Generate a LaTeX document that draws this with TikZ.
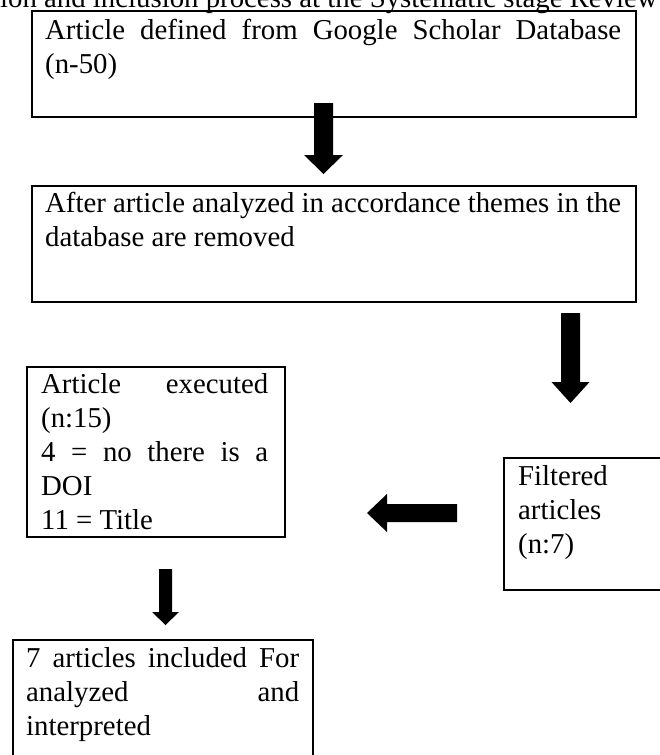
\documentclass[tikz,border=0pt]{standalone}
\usepackage{fontspec}
\setmainfont{Liberation Serif}
\begin{document}
\begin{tikzpicture}[x=1pt,y=-1pt,
  box/.style={draw, line width=2.2pt, inner sep=0pt, anchor=north west},
  txt/.style={anchor=north west, inner sep=0pt, text width=#1, align=justify,
    font=\fontsize{28.8}{34}\selectfont,
    execute at begin node={\parindent=0pt\tolerance=10000\hyphenpenalty=10000\pretolerance=-1}},
  blockarrow/.style={fill=black}]
\useasboundingbox (0,0) rectangle (659,755);
% cut-off caption
\node[anchor=base west, inner sep=0pt, font=\fontsize{28.8}{34}\selectfont] (cap) at (0,7)
  {ion and inclusion process at the Systematic stage Review};
% boxes
\node[box, minimum width=604pt, minimum height=106pt] (b1) at (31,10) {};
\node[box, minimum width=604pt, minimum height=116pt] (b2) at (31,185) {};
\node[box, minimum width=258pt, minimum height=170pt] (b3) at (26,366) {};
\node[box, minimum width=190pt, minimum height=132pt] (b5) at (503,457) {};
\node[box, minimum width=300pt, minimum height=150pt] (b4) at (12,639) {};
% texts
\node[txt=576pt] (t1) at (45,15) {\strut Article defined from Google Scholar Database\linebreak (n-50)};
\node[txt=576pt] (t2) at (45,188) {\strut After article analyzed in accordance themes in the\linebreak database are removed};
\node[txt=227pt] (t3) at (41,369) {\strut Article executed\linebreak (n:15)\par 4 = no there is a\linebreak DOI\par 11 = Title};
\node[anchor=north west, inner sep=0pt, align=left, font=\fontsize{28.8}{34}\selectfont] (t5) at (518,461) {\strut Filtered\\articles\\(n:7)};
\node[txt=273pt] (t4) at (26,643) {\strut 7 articles included For\linebreak analyzed and\linebreak interpreted};
% block arrows
\fill[blockarrow] (314,103) -- (333,103) -- (333,155) -- (343,155) -- (323.5,174) -- (304,155) -- (314,155) -- cycle;
\fill[blockarrow] (561,313) -- (580,313) -- (580,382) -- (589.5,382) -- (570.5,403) -- (551.5,382) -- (561,382) -- cycle;
\fill[blockarrow] (457,504) -- (457,522) -- (387,522) -- (387,532) -- (367,513) -- (387,494) -- (387,504) -- cycle;
\fill[blockarrow] (159,569) -- (172,569) -- (172,612) -- (179,612) -- (165.5,625) -- (152,612) -- (159,612) -- cycle;
\end{tikzpicture}
\end{document}
